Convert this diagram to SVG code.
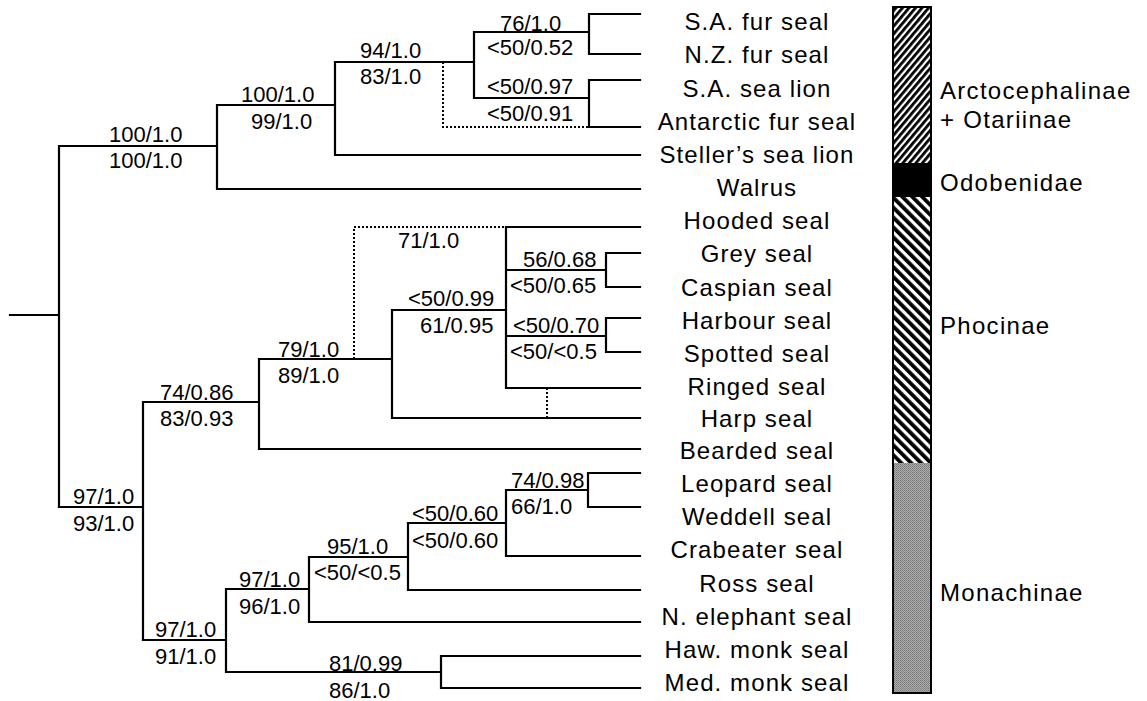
<svg xmlns="http://www.w3.org/2000/svg" width="1147" height="701" viewBox="0 0 1147 701">
<style>
.br{fill:none;stroke:#000;stroke-width:2.2;stroke-linecap:square}
.dot{fill:none;stroke:#000;stroke-width:2;stroke-dasharray:2 2}
.sup{font-family:"Liberation Sans",Arial,sans-serif;font-size:22px;fill:#000}
.tax{font-family:"Liberation Sans",Arial,sans-serif;font-size:24px;letter-spacing:1.1px;fill:#000;text-anchor:middle}
.grp{font-family:"Liberation Sans",Arial,sans-serif;font-size:24px;letter-spacing:1.3px;fill:#000}
</style>
<defs>
<pattern id="hatchA" width="5" height="5" patternUnits="userSpaceOnUse" patternTransform="rotate(40)">
<rect width="5" height="5" fill="#fff"/><rect width="2.8" height="5" fill="#000"/>
</pattern>
<pattern id="hatchP" width="7" height="7" patternUnits="userSpaceOnUse" patternTransform="rotate(-45)">
<rect width="7" height="7" fill="#fff"/><rect width="3.8" height="7" fill="#000"/>
</pattern>
<pattern id="stip" width="2" height="2" patternUnits="userSpaceOnUse">
<rect width="2" height="2" fill="#ababab"/><rect width="1" height="1" fill="#7a7a7a"/><rect x="1" y="1" width="1" height="1" fill="#868686"/>
</pattern>
</defs>
<rect width="1147" height="701" fill="#fff"/>
<g id="connectors">
<path class="br" d="M10 315H59M59 146V507M59 146H217M217 105V189M217 105H335M217 189H640M335 62V155M335 62H474M335 155H640M474 32V98M474 32H589M589 14V54M589 14H640M589 54H640M474 98H589M589 80V127M589 80H640M589 127H640"/>
<path class="br" d="M59 507H143M143 402V640M143 402H259M259 359V449M259 449H640M259 359H392M392 310V418M392 418H640M392 310H506M506 227V388M506 227H640M506 270H606M606 253V287M606 253H640M606 287H640M506 336H606M606 318V352M606 318H640M606 352H640M506 388H640"/>
<path class="br" d="M143 640H226M226 589V672M226 589H309M309 557V622M309 557H408M309 622H640M408 523V590M408 523H506M408 590H640M506 490V556M506 490H588M588 473V507M588 473H640M588 507H640M506 556H640M226 672H441M441 656V688M441 656H640M441 688H640"/>
<path class="dot" d="M443 62V127H589M354 359V227H506M547 388V418"/>
</g>
<g id="node-root"><text class="sup" x="109" y="142">100/1.0</text><text class="sup" x="109" y="168">100/1.0</text></g>
<g id="node-pinnipedia-otariidae-walrus"><text class="sup" x="241" y="102">100/1.0</text><text class="sup" x="251" y="129">99/1.0</text></g>
<g id="node-otariidae"><text class="sup" x="360" y="58">94/1.0</text><text class="sup" x="360" y="84">83/1.0</text></g>
<g id="node-fur-seals"><text class="sup" x="500" y="31">76/1.0</text><text class="sup" x="487" y="55">&lt;50/0.52</text></g>
<g id="node-sealion-antarctic"><text class="sup" x="487" y="94">&lt;50/0.97</text><text class="sup" x="487" y="121">&lt;50/0.91</text></g>
<g id="node-phocidae"><text class="sup" x="73" y="504">97/1.0</text><text class="sup" x="73" y="531">93/1.0</text></g>
<g id="node-phocinae"><text class="sup" x="160" y="400">74/0.86</text><text class="sup" x="160" y="426">83/0.93</text></g>
<g id="node-phocinae-2"><text class="sup" x="278" y="357">79/1.0</text><text class="sup" x="278" y="383">89/1.0</text></g>
<g id="node-hooded-alt"><text class="sup" x="398" y="248">71/1.0</text></g>
<g id="node-phocini"><text class="sup" x="408" y="306">&lt;50/0.99</text><text class="sup" x="420" y="333">61/0.95</text></g>
<g id="node-grey-caspian"><text class="sup" x="523" y="267">56/0.68</text><text class="sup" x="510" y="293">&lt;50/0.65</text></g>
<g id="node-harbour-spotted"><text class="sup" x="513" y="333">&lt;50/0.70</text><text class="sup" x="510" y="359">&lt;50/&lt;0.5</text></g>
<g id="node-monachinae"><text class="sup" x="155" y="637">97/1.0</text><text class="sup" x="155" y="664">91/1.0</text></g>
<g id="node-lobodontini-elephant"><text class="sup" x="239" y="587">97/1.0</text><text class="sup" x="239" y="614">96/1.0</text></g>
<g id="node-lobodontini"><text class="sup" x="327" y="554">95/1.0</text><text class="sup" x="314" y="580">&lt;50/&lt;0.5</text></g>
<g id="node-leo-wed-crab"><text class="sup" x="412" y="521">&lt;50/0.60</text><text class="sup" x="412" y="548">&lt;50/0.60</text></g>
<g id="node-leopard-weddell"><text class="sup" x="511" y="488">74/0.98</text><text class="sup" x="511" y="514">66/1.0</text></g>
<g id="node-monk"><text class="sup" x="329" y="671">81/0.99</text><text class="sup" x="329" y="698">86/1.0</text></g>
<g id="taxon-sa-fur-seal"><text class="tax" x="757" y="30">S.A. fur seal</text></g>
<g id="taxon-nz-fur-seal"><text class="tax" x="757" y="63">N.Z. fur seal</text></g>
<g id="taxon-sa-sea-lion"><text class="tax" x="757" y="97">S.A. sea lion</text></g>
<g id="taxon-antarctic-fur-seal"><text class="tax" x="757" y="130">Antarctic fur seal</text></g>
<g id="taxon-stellers-sea-lion"><text class="tax" x="757" y="163">Steller’s sea lion</text></g>
<g id="taxon-walrus"><text class="tax" x="757" y="196">Walrus</text></g>
<g id="taxon-hooded-seal"><text class="tax" x="757" y="229">Hooded seal</text></g>
<g id="taxon-grey-seal"><text class="tax" x="757" y="262">Grey seal</text></g>
<g id="taxon-caspian-seal"><text class="tax" x="757" y="296">Caspian seal</text></g>
<g id="taxon-harbour-seal"><text class="tax" x="757" y="329">Harbour seal</text></g>
<g id="taxon-spotted-seal"><text class="tax" x="757" y="362">Spotted seal</text></g>
<g id="taxon-ringed-seal"><text class="tax" x="757" y="395">Ringed seal</text></g>
<g id="taxon-harp-seal"><text class="tax" x="757" y="427">Harp seal</text></g>
<g id="taxon-bearded-seal"><text class="tax" x="757" y="459">Bearded seal</text></g>
<g id="taxon-leopard-seal"><text class="tax" x="757" y="492">Leopard seal</text></g>
<g id="taxon-weddell-seal"><text class="tax" x="757" y="525">Weddell seal</text></g>
<g id="taxon-crabeater-seal"><text class="tax" x="757" y="558">Crabeater seal</text></g>
<g id="taxon-ross-seal"><text class="tax" x="757" y="592">Ross seal</text></g>
<g id="taxon-n-elephant-seal"><text class="tax" x="757" y="625">N. elephant seal</text></g>
<g id="taxon-haw-monk-seal"><text class="tax" x="757" y="658">Haw. monk seal</text></g>
<g id="taxon-med-monk-seal"><text class="tax" x="757" y="691">Med. monk seal</text></g>
<g id="group-arctocephalinae-otariinae"><rect x="893" y="7" width="38" height="156" fill="url(#hatchA)"/><text class="grp" x="940" y="99">Arctocephalinae</text><text class="grp" x="940" y="128">+ Otariinae</text></g>
<g id="group-odobenidae"><rect x="893" y="163" width="38" height="34" fill="#000"/><text class="grp" x="940" y="191">Odobenidae</text></g>
<g id="group-phocinae"><rect x="893" y="197" width="38" height="266" fill="url(#hatchP)"/><text class="grp" x="940" y="334">Phocinae</text></g>
<g id="group-monachinae"><rect x="893" y="463" width="38" height="230" fill="url(#stip)"/><text class="grp" x="940" y="601">Monachinae</text></g>
<rect x="893" y="7" width="38" height="686" fill="none" stroke="#000" stroke-width="2"/>
</svg>
